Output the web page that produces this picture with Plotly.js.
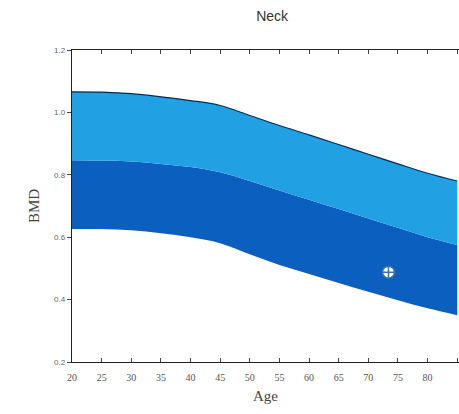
<!DOCTYPE html>
<html><head><meta charset="utf-8">
<script src="https://cdn.plot.ly/plotly-3.0.1.min.js"></script>
<style>html,body{margin:0;padding:0;background:#fff;}#chart{width:459px;height:414px;}</style>
</head><body><div id="chart"></div>
<script>
const ages = [20, 25, 30, 35, 40, 45, 50, 55, 60, 65, 70, 75, 80, 85];
const upperBMD = [1.066, 1.065, 1.06, 1.05, 1.038, 1.022, 0.99, 0.958, 0.928, 0.897, 0.866, 0.835, 0.805, 0.78];
const meanBMD = [0.847, 0.846, 0.843, 0.835, 0.825, 0.808, 0.78, 0.75, 0.72, 0.69, 0.66, 0.63, 0.60, 0.575];
const lowerBMD = [0.626, 0.626, 0.622, 0.613, 0.600, 0.581, 0.545, 0.511, 0.482, 0.453, 0.425, 0.398, 0.372, 0.350];
const patientAge = [73.4];
const patientBMD = [0.488];
const xTicks = [20, 25, 30, 35, 40, 45, 50, 55, 60, 65, 70, 75, 80, 85];
const yTicks = [0.2, 0.4, 0.6, 0.8, 1.0, 1.2];
const yTickText = ['0.2', '0.4', '0.6', '0.8', '1.0', '1.2'];

const traces = [
  {x: ages, y: lowerBMD, mode: 'lines', line: {width: 0, shape: 'spline'}, hoverinfo: 'skip', showlegend: false},
  {x: ages, y: meanBMD, mode: 'lines', fill: 'tonexty', fillcolor: '#0b5fbf', line: {width: 0, shape: 'spline'}, showlegend: false},
  {x: ages, y: upperBMD, mode: 'lines', fill: 'tonexty', fillcolor: '#22a0e4', line: {width: 1.2, color: '#0d2a4a', shape: 'spline'}, showlegend: false},
  {x: patientAge, y: patientBMD, mode: 'markers', marker: {symbol: 'circle-cross', size: 12, color: '#ffffff', line: {color: '#3a6fb0', width: 1.5}}, showlegend: false}
];

const layout = {
  width: 459, height: 414,
  margin: {l: 72, r: 0, t: 50, b: 52},
  paper_bgcolor: '#ffffff', plot_bgcolor: '#ffffff',
  title: {text: 'Neck', font: {family: 'Liberation Sans, Arial', size: 14, color: '#333'}, x: 0.593, xanchor: 'center', y: 0.962, yanchor: 'middle'},
  xaxis: {
    range: [20, 85.3], tickvals: xTicks, ticktext: xTicks.map(String),
    showgrid: false, zeroline: false, showline: true, linecolor: '#222', linewidth: 1.2,
    mirror: 'ticks', ticks: 'inside', ticklen: 4, tickcolor: '#444',
    ticklabelstandoff: 6,
    tickfont: {family: 'Liberation Serif, Times New Roman', size: 10, color: '#555'},
    title: {text: 'Age', font: {family: 'Liberation Serif, Times New Roman', size: 15, color: '#444'}, standoff: 8}
  },
  yaxis: {
    range: [0.2, 1.2], tickvals: yTicks, ticktext: yTickText,
    showgrid: false, zeroline: false, showline: true, linecolor: '#222', linewidth: 1.2,
    mirror: true, ticks: 'outside', ticklen: 4, tickcolor: '#444',
    tickfont: {family: 'Liberation Sans, Arial', size: 8, color: '#666'},
    title: {text: 'BMD', font: {family: 'Liberation Serif, Times New Roman', size: 15, color: '#444'}, standoff: 10}
  }
};
Plotly.newPlot('chart', traces, layout, {displayModeBar: false, staticPlot: true});
</script></body></html>
